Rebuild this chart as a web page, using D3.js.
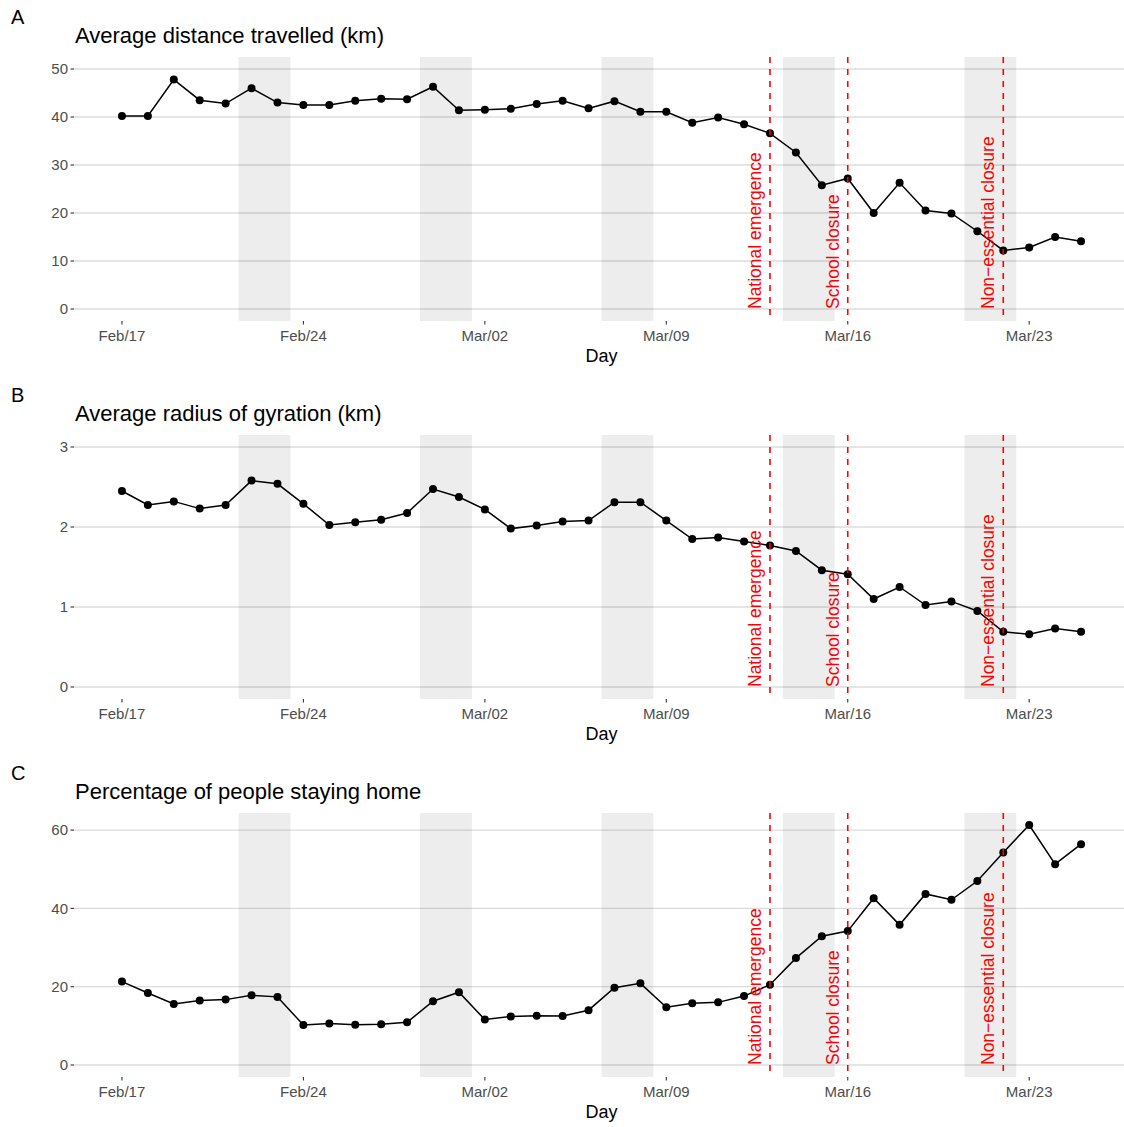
<!DOCTYPE html>
<html>
<head>
<meta charset="utf-8">
<script src="https://cdn.jsdelivr.net/npm/d3@7"></script>
<style>
  html, body { margin: 0; padding: 0; background: #fff; }
  svg { display: block; font-family: "Liberation Sans", Arial, Helvetica, sans-serif; }
</style>
</head>
<body>
<svg id="chart" width="1124" height="1127"></svg>
<script>
// Daily mobility indicators, 17 Feb – 25 Mar 2020
const days = [
  "2020-02-17","2020-02-18","2020-02-19","2020-02-20","2020-02-21","2020-02-22","2020-02-23",
  "2020-02-24","2020-02-25","2020-02-26","2020-02-27","2020-02-28","2020-02-29","2020-03-01",
  "2020-03-02","2020-03-03","2020-03-04","2020-03-05","2020-03-06","2020-03-07","2020-03-08",
  "2020-03-09","2020-03-10","2020-03-11","2020-03-12","2020-03-13","2020-03-14","2020-03-15",
  "2020-03-16","2020-03-17","2020-03-18","2020-03-19","2020-03-20","2020-03-21","2020-03-22",
  "2020-03-23","2020-03-24","2020-03-25"
];

const distanceKm = [40.2,40.2,47.8,43.5,42.8,46.0,43.0,42.5,42.5,43.4,43.8,43.7,46.3,41.4,41.5,
  41.7,42.7,43.4,41.8,43.3,41.1,41.1,38.8,39.9,38.5,36.6,32.6,25.8,27.2,20.0,26.3,20.5,19.9,
  16.2,12.2,12.8,15.0,14.1];

const gyrationKm = [2.45,2.275,2.32,2.23,2.275,2.58,2.54,2.29,2.025,2.06,2.09,2.175,2.475,2.375,
  2.22,1.98,2.02,2.07,2.08,2.31,2.31,2.08,1.85,1.87,1.82,1.77,1.70,1.46,1.41,1.10,1.25,1.025,
  1.07,0.95,0.69,0.66,0.73,0.69];

const stayingHomePct = [21.3,18.4,15.6,16.5,16.7,17.8,17.4,10.2,10.6,10.3,10.4,10.9,16.3,18.6,
  11.6,12.4,12.6,12.5,14.0,19.75,20.85,14.75,15.8,16.0,17.6,20.5,27.3,32.9,34.2,42.6,35.8,43.7,
  42.2,47.0,54.3,61.3,51.3,56.4];

// Weekends (Saturday, Sunday)
const weekendStart = ["2020-02-22","2020-02-29","2020-03-07","2020-03-14","2020-03-21"];
const weekendEnd   = ["2020-02-23","2020-03-01","2020-03-08","2020-03-15","2020-03-22"];

// Policy events
const eventDates  = ["2020-03-13","2020-03-16","2020-03-22"];
const eventLabels = ["National emergence","School closure","Non\u2212essential closure"];

const xTickDates = ["2020-02-17","2020-02-24","2020-03-02","2020-03-09","2020-03-16","2020-03-23"];

const panelLetters = ["A","B","C"];
const panelTitles  = ["Average distance travelled (km)","Average radius of gyration (km)","Percentage of people staying home"];
const panelSeries  = [distanceKm, gyrationKm, stayingHomePct];
const panelYTicks  = [[0,10,20,30,40,50],[0,1,2,3],[0,20,40,60]];
const panelYLimits = [[0,50],[0,3],[0,61.3]];

const parse = d3.utcParse("%Y-%m-%d");
const fmt = d3.utcFormat("%b/%d");
const dayMs = 864e5;

const svg = d3.select("#chart");

const plotLeft = 74, plotRight = 1129;
const plotH = 264, firstTop = 57, panelStep = 378;

const dates = days.map(parse);
const x0 = dates[0], x1 = dates[dates.length - 1];
const xPad = (x1 - x0) * 0.05;
const x = d3.scaleUtc()
  .domain([new Date(+x0 - xPad), new Date(+x1 + xPad)])
  .range([plotLeft, plotRight]);

panelSeries.forEach((values, p) => {
  const top = firstTop + p * panelStep;
  const bottom = top + plotH;
  const [lo, hi] = panelYLimits[p];
  const pad = (hi - lo) * 0.05;
  const y = d3.scaleLinear().domain([lo - pad, hi + pad]).range([bottom, top]);

  const g = svg.append("g");

  // panel letter and title
  g.append("text").attr("x", 11).attr("y", top - 33)
    .attr("font-size", 20).attr("fill", "#000").text(panelLetters[p]);
  g.append("text").attr("x", 75).attr("y", top - 14)
    .attr("font-size", 22).attr("fill", "#000").text(panelTitles[p]);

  // clip to the panel area
  const clipId = "clip" + p;
  svg.append("clipPath").attr("id", clipId)
    .append("rect").attr("x", plotLeft).attr("y", top)
    .attr("width", plotRight - plotLeft).attr("height", plotH);
  const body = g.append("g").attr("clip-path", `url(#${clipId})`);

  // horizontal grid
  body.selectAll("line.grid").data(panelYTicks[p]).join("line")
    .attr("class", "grid")
    .attr("x1", plotLeft).attr("x2", plotRight)
    .attr("y1", d => y(d)).attr("y2", d => y(d))
    .attr("stroke", "#dcdcdc").attr("stroke-width", 1.3);

  // weekend shading
  body.selectAll("rect.wk").data(weekendStart.map((s, i) => [parse(s), parse(weekendEnd[i])])).join("rect")
    .attr("class", "wk")
    .attr("x", d => x(new Date(+d[0] - dayMs / 2)))
    .attr("width", d => x(new Date(+d[1] + dayMs / 2)) - x(new Date(+d[0] - dayMs / 2)))
    .attr("y", top).attr("height", plotH)
    .attr("fill", "#000").attr("fill-opacity", 0.072);

  // series line and points
  const pts = dates.map((d, i) => [d, values[i]]);
  body.append("path").datum(pts)
    .attr("fill", "none").attr("stroke", "#000").attr("stroke-width", 1.5)
    .attr("d", d3.line().x(d => x(d[0])).y(d => y(d[1])));
  body.selectAll("circle").data(pts).join("circle")
    .attr("cx", d => x(d[0])).attr("cy", d => y(d[1])).attr("r", 4)
    .attr("fill", "#000");

  // event lines and labels
  eventDates.forEach((ds, i) => {
    const ex = x(parse(ds));
    body.append("line")
      .attr("x1", ex).attr("x2", ex).attr("y1", top).attr("y2", bottom)
      .attr("stroke", "#ff0000").attr("stroke-width", 1.6)
      .attr("stroke-dasharray", "6,6");
    body.append("text")
      .attr("transform", `translate(${ex - 9},${y(0)}) rotate(-90)`)
      .attr("font-size", 17.5).attr("fill", "#ff0000")
      .text(eventLabels[i]);
  });

  // y axis
  const ya = g.append("g");
  panelYTicks[p].forEach(t => {
    ya.append("line").attr("x1", plotLeft - 3.5).attr("x2", plotLeft)
      .attr("y1", y(t)).attr("y2", y(t)).attr("stroke", "#333").attr("stroke-width", 1.1);
    ya.append("text").attr("x", plotLeft - 6).attr("y", y(t))
      .attr("dy", "0.36em").attr("text-anchor", "end")
      .attr("font-size", 15).attr("fill", "#4d4d4d").text(t);
  });

  // x axis
  const xa = g.append("g");
  xTickDates.map(parse).forEach(t => {
    xa.append("line").attr("x1", x(t)).attr("x2", x(t))
      .attr("y1", bottom).attr("y2", bottom + 3.5).attr("stroke", "#333").attr("stroke-width", 1.1);
    xa.append("text").attr("x", x(t)).attr("y", bottom + 20)
      .attr("text-anchor", "middle").attr("font-size", 15).attr("fill", "#4d4d4d").text(fmt(t));
  });
  g.append("text").attr("x", (plotLeft + plotRight) / 2).attr("y", bottom + 41)
    .attr("text-anchor", "middle").attr("font-size", 18).attr("fill", "#000").text("Day");
});
</script>
</body>
</html>
